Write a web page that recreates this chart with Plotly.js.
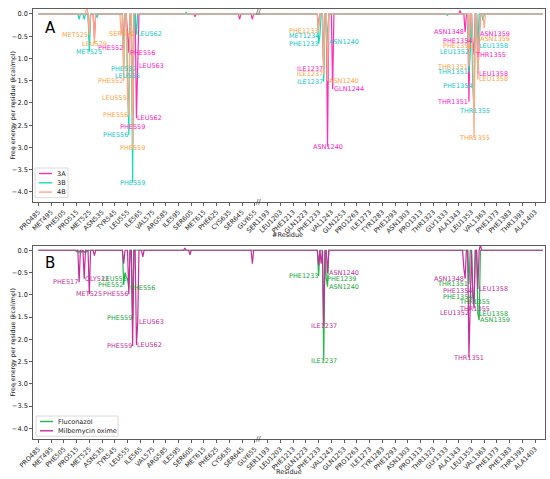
<!DOCTYPE html>
<html><head><meta charset="utf-8">
<script src="https://cdn.plot.ly/plotly-3.0.1.min.js"></script>
<style>html,body{margin:0;padding:0;background:#fff}#chart{width:550px;height:479px}</style>
</head><body><div id="chart"></div>
<script>
// residue ranges shown on the (broken) x axis
const segment1 = [485, 657];
const segment2 = [1186, 1409];

const tickLabels = ['PRO485','MET495','PHE505','PRO515','MET525','ASN535','TYR545','LEU555','ILE565','VAL575',
  'ARG585','ILE595','SER605','MET615','PHE625','CYS635','SER645','GLY655','SER1193','LEU1203',
  'PHE1213','GLN1223','PHE1233','VAL1243','GLN1253','PRO1263','ILE1273','TYR1283','PHE1293','ASN1303',
  'PRO1313','THR1323','GLY1333','ALA1343','LEU1353','VAL1363','PHE1373','PHE1383','THR1393','ALA1403'];
const yTicks = [0, -0.5, -1, -1.5, -2, -2.5, -3, -3.5, -4];

// Panel A: [residue, free energy kcal/mol]; all other residues ~0
const dips3A = [[525,-0.55],[529,-0.55],[552,-0.76],[555,-0.35],[556,-0.87],[559,-2.55],[562,-2.34],[563,-1.17],
  [608,-0.06],[643,-0.12],[653,-0.12],[1233,-0.25],[1237,-1.24],[1240,-2.98],[1244,-1.69],
  [1344,0.08],[1348,-0.41],[1351,-1.97],[1354,-0.61],[1355,-0.92],[1358,-1.35],[1359,-0.45]];
const dips3B = [[517,-0.12],[521,-0.12],[525,-0.85],[531,-0.08],[552,-1.24],[555,-1.39],[556,-2.72],[559,-3.79],
  [562,-0.46],[601,0.04],[1233,-0.67],[1234,-0.49],[1237,-1.52],[1240,-0.64],[1334,-0.03],
  [1351,-1.30],[1352,-0.86],[1354,-1.61],[1355,-2.18],[1358,-0.72],[1362,-0.15]];
const dips4B = [[523,0.18],[525,-0.47],[529,-0.67],[550,-0.46],[552,-1.51],[555,-1.89],[556,-2.27],[559,-3.02],
  [1233,-0.38],[1237,-1.35],[1240,-1.50],[1351,-1.18],[1354,-0.73],[1355,-2.79],[1358,-1.47],[1359,-0.56],[1363,-0.32]];
// Panel B
const dipsFlu = [[515,-0.03],[517,-0.05],[519,-0.05],[521,-0.05],[523,-0.04],[552,-0.78],[553,-0.5],[554,-0.6],
  [555,-0.64],[556,-0.84],[559,-1.53],[1233,-0.58],[1237,-2.48],[1239,-0.64],[1240,-0.82],
  [1351,-0.76],[1354,-1.05],[1355,-1.17],[1358,-1.43],[1359,-1.57]];
const dipsMil = [[517,-0.72],[521,-0.64],[525,-0.99],[529,-0.12],[552,-0.3],[556,-0.99],[559,-2.15],[562,-2.13],
  [563,-1.61],[567,-0.15],[600,0.05],[604,-0.1],[653,-0.30],[1233,-0.34],[1235,-0.3],[1237,-1.70],[1240,-0.51],
  [1347,-0.4],[1348,-0.64],[1351,-2.41],[1352,-1.40],[1354,-0.91],[1355,-1.31],[1358,-0.87],[1360,0.12]];

// labelled residues: [series, label, alignment]
const labelsA = [
 ['3A','PHE552','r'],['3A','PHE556','l'],['3A','LEU563','l'],['3A','LEU562','l'],['3A','PHE559','c'],
 ['3A','ILE1237','r'],['3A','ASN1240','c'],['3A','GLN1244','l'],['3A','ASN1348','r'],['3A','ASN1359','l'],
 ['3A','PHE1354','r'],['3A','THR1355','l'],['3A','LEU1358','l'],['3A','THR1351','r'],
 ['3B','MET525','c'],['3B','LEU562','l'],['3B','PHE552','c'],['3B','LEU555','c'],['3B','PHE556','r'],['3B','PHE559','c'],
 ['3B','MET1234','r'],['3B','PHE1233','r'],['3B','ILE1237','r'],['3B','ASN1240','l'],['3B','LEU1358','l'],
 ['3B','LEU1352','r'],['3B','THR1351','r'],['3B','PHE1354','r'],['3B','THR1355','c'],
 ['4B','MET525','r'],['4B','LEU529','c'],['4B','SER550','c'],['4B','PHE552','r'],['4B','LEU555','r'],['4B','PHE556','r'],
 ['4B','PHE559','c'],['4B','PHE1233','r'],['4B','ILE1237','r'],['4B','ASN1240','l'],['4B','ASN1359','l'],
 ['4B','PHE1354','r'],['4B','THR1351','r'],['4B','LEU1358','l'],['4B','THR1355','c']];
const labelsB = [
 ['Mil','PHE517','r'],['Mil','GLY521','l'],['Mil','MET525','c'],['Mil','PHE556','r'],['Mil','LEU563','l'],
 ['Mil','PHE559','r'],['Mil','LEU562','l'],['Mil','ASN1240','l'],['Mil','ILE1237','c'],['Mil','ASN1348','r'],
 ['Mil','PHE1354','r'],['Mil','LEU1358','l'],['Mil','THR1355','c'],['Mil','LEU1352','r'],['Mil','THR1351','c'],
 ['Flu','LEU555','r'],['Flu','PHE552','r'],['Flu','PHE556','l'],['Flu','PHE559','r'],['Flu','PHE1233','r'],
 ['Flu','PHE1239','l'],['Flu','ASN1240','l'],['Flu','ILE1237','c'],['Flu','THR1351','r'],['Flu','PHE1354','r'],
 ['Flu','THR1355','c'],['Flu','LEU1358','l'],['Flu','ASN1359','l']];

const styles = {
  '3A': {name:'3A', line:'#ff2cb4', text:'#ff20c4', data:dips3A},
  '3B': {name:'3B', line:'#13dcb4', text:'#12c8c8', data:dips3B},
  '4B': {name:'4B', line:'#ffaa80', text:'#ff9f45', data:dips4B},
  'Flu': {name:'Fluconazol', line:'#22b84a', text:'#16a83a', data:dipsFlu},
  'Mil': {name:'Milbemycin oxime', line:'#c42d9c', text:'#bf2f9a', data:dipsMil}
};

const residues = [];
for (let r = segment1[0]; r <= segment1[1]; r++) residues.push(r);
for (let r = segment2[0]; r <= segment2[1]; r++) residues.push(r);
const idx = {}; residues.forEach((r, i) => { idx[r] = i; });
const xs = residues.map((r, i) => i);
const resNum = s => parseInt(s.replace(/^[A-Z]+/, ''), 10);
const seriesY = d => { const m = new Map(d); return residues.map(r => m.has(r) ? m.get(r) : 0); };
const breakX = (idx[segment1[1]] + idx[segment2[0]]) / 2;

const FONT = 'DejaVu Sans, Arial, sans-serif';
function trace(key, xa, ya) {
  const s = styles[key];
  return {x: xs, y: seriesY(s.data), type: 'scatter', mode: 'lines', name: s.name,
    xaxis: xa, yaxis: ya, line: {color: s.line, width: 1.2}, showlegend: false};
}
const data = [
  trace('3A','x','y'), trace('3B','x','y'), trace('4B','x','y'),
  trace('Flu','x2','y2'), trace('Mil','x2','y2')
];

const W = 550, H = 479, M = {l: 33, r: 5, t: 9, b: 40};
const PW = W - M.l - M.r, PH = H - M.t - M.b;
const px2x = p => (p - M.l) / PW, py2y = p => (H - M.b - p) / PH;

const anns = [], shapes = [];
function addLabels(list, xr, yr) {
  list.forEach(([key, name, al]) => {
    const s = styles[key]; const r = resNum(name);
    const v = new Map(s.data).get(r);
    anns.push({x: idx[r], y: v, xref: xr, yref: yr, text: name, showarrow: false,
      xanchor: al === 'r' ? 'right' : al === 'l' ? 'left' : 'center', yanchor: 'middle',
      borderpad: 0, font: {family: FONT, size: 6.5, color: s.text}});
  });
}
addLabels(labelsA, 'x', 'y');
addLabels(labelsB, 'x2', 'y2');

// compact legend boxes (matplotlib style)
function legendBox(keys, left, top, width) {
  const rowH = 9.3, pad = 5.5;
  const h = pad * 2 + (keys.length - 1) * rowH;
  shapes.push({type: 'rect', xref: 'paper', yref: 'paper', x0: px2x(left), x1: px2x(left + width),
    y0: py2y(top + h), y1: py2y(top), line: {color: '#d0d0d0', width: 0.8}, fillcolor: 'rgba(255,255,255,0.85)', layer: 'above'});
  keys.forEach((k, i) => {
    const yy = top + pad + i * rowH;
    shapes.push({type: 'line', xref: 'paper', yref: 'paper', x0: px2x(left + 4), x1: px2x(left + 17),
      y0: py2y(yy), y1: py2y(yy), line: {color: styles[k].line, width: 1.4}, layer: 'above'});
    anns.push({text: styles[k].name, x: px2x(left + 21), y: py2y(yy), xref: 'paper', yref: 'paper',
      xanchor: 'left', yanchor: 'middle', showarrow: false, borderpad: 0, font: {family: FONT, size: 6.5, color: '#222'}});
  });
}
legendBox(['3A','3B','4B'], 35, 168, 33);
legendBox(['Flu','Mil'], 36, 416, 82);

const yTop = py2y(202), yTopEnd = py2y(9), yBot = py2y(246);
anns.push({text: 'A', x: px2x(43), y: py2y(28), xref: 'paper', yref: 'paper', xanchor: 'left', yanchor: 'middle', showarrow: false, font: {family: FONT, size: 15, color: '#000'}});
anns.push({text: 'B', x: px2x(43), y: py2y(262.5), xref: 'paper', yref: 'paper', xanchor: 'left', yanchor: 'middle', showarrow: false, font: {family: FONT, size: 15, color: '#000'}});
anns.push({text: '#Residue', x: px2x(287), y: py2y(235), xref: 'paper', yref: 'paper', showarrow: false, yanchor: 'middle', font: {family: FONT, size: 6.5, color: '#222'}});
anns.push({text: 'Residue', x: px2x(289), y: py2y(472), xref: 'paper', yref: 'paper', showarrow: false, yanchor: 'middle', font: {family: FONT, size: 6.5, color: '#222'}});
const ytitle = 'Free energy per residue (kcal/mol)';
anns.push({text: ytitle, x: px2x(12), y: (yTopEnd + yTop) / 2, xref: 'paper', yref: 'paper', textangle: -90, showarrow: false, xanchor: 'center', yanchor: 'middle', font: {family: FONT, size: 6.3, color: '#222'}});
anns.push({text: ytitle, x: px2x(12), y: yBot / 2, xref: 'paper', yref: 'paper', textangle: -90, showarrow: false, xanchor: 'center', yanchor: 'middle', font: {family: FONT, size: 6.3, color: '#222'}});
// axis break markers
[['x', py2y(12.5)], ['x', yTop], ['x2', py2y(439)]].forEach(([xr, yy]) => {
  anns.push({text: '//', x: breakX, y: yy, xref: xr, yref: 'paper', showarrow: false, xanchor: 'center', yanchor: 'middle', font: {family: FONT, size: 7, color: '#333'}});
});

const xax = {
  range: [-4.2, 397.7], tickvals: tickLabels.map(t => idx[resNum(t)]), ticktext: tickLabels,
  tickangle: -45, ticks: 'outside', ticklen: 3, tickwidth: 0.8, tickcolor: '#333',
  showline: true, mirror: true, linecolor: '#333', linewidth: 0.8, showgrid: false, zeroline: false,
  tickfont: {family: FONT, size: 6.5, color: '#222'}
};
const yax = {
  tickvals: yTicks, tickformat: '.1f', ticks: 'outside', ticklen: 3, tickwidth: 0.8, tickcolor: '#333',
  showline: true, mirror: true, linecolor: '#333', linewidth: 0.8, showgrid: false, zeroline: false,
  tickfont: {family: FONT, size: 6.6, color: '#222'}
};

const layout = {
  width: W, height: H, margin: M,
  paper_bgcolor: '#fff', plot_bgcolor: '#fff', showlegend: false,
  xaxis: Object.assign({}, xax, {anchor: 'y', domain: [0, 1]}),
  yaxis: Object.assign({}, yax, {anchor: 'x', domain: [yTop, 1], range: [-4.225, 0.112]}),
  xaxis2: Object.assign({}, xax, {anchor: 'y2', domain: [0, 1]}),
  yaxis2: Object.assign({}, yax, {anchor: 'x2', domain: [0, yBot], range: [-4.24, 0.096]}),
  annotations: anns, shapes: shapes
};
Plotly.newPlot('chart', data, layout, {displayModeBar: false, staticPlot: true});
</script></body></html>
